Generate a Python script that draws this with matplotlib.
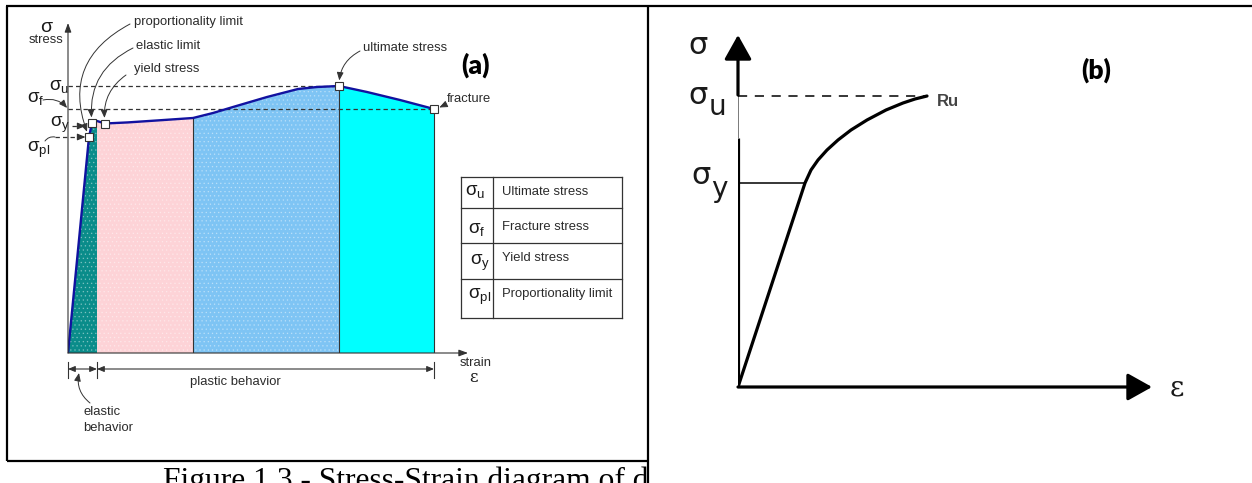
import numpy as np
import matplotlib
matplotlib.use("Agg")
import matplotlib.pyplot as plt
from matplotlib.patches import Rectangle
from matplotlib.transforms import blended_transform_factory

plt.rcParams['font.family'] = ['Liberation Sans', 'DejaVu Sans']
plt.rcParams['mathtext.fontset'] = 'custom'
plt.rcParams['mathtext.rm'] = 'Liberation Sans'
plt.rcParams['mathtext.default'] = 'regular'
plt.rcParams['hatch.linewidth'] = 0.5

# ---------------- data: (a) ductile steel stress-strain curve ----------------
strain_a = [0.000, 0.021, 0.024, 0.029, 0.037, 0.060, 0.090, 0.125,
            0.145, 0.165, 0.199, 0.230, 0.249, 0.271, 0.299, 0.332, 0.366]
stress_a = [0, 216, 230, 232, 229.5, 230.6, 232.6, 235,
            240, 246, 256, 264, 266, 267, 261, 253, 244]

region_names = ['elastic region', 'yielding', 'strain hardening', 'necking']
region_edges = [0.000, 0.029, 0.125, 0.271, 0.366]

point_names = ['proportionality limit', 'elastic limit', 'yield stress',
               'ultimate stress', 'fracture']
point_index = [1, 2, 4, 13, 16]

sigma_u, sigma_f, sigma_y, sigma_pl = 267, 244, 227, 216

table_symbols = [r'$\sigma_u$', r'$\sigma_f$', r'$\sigma_y$', r'$\sigma_{pl}$']
table_labels = ['Ultimate stress', 'Fracture stress', 'Yield stress',
                'Proportionality limit']

# ---------------- data: (b) idealised curve ----------------
strain_b = [0.000, 0.067, 0.073, 0.080, 0.089, 0.100, 0.113, 0.129,
            0.148, 0.165, 0.177, 0.189]
stress_b = [0, 204, 217, 227, 237, 247, 257, 267, 277, 284, 288, 291]
sigma_y_b, sigma_u_b = 204, 291

caption = "Figure 1.3 - Stress-Strain diagram of d"

# ---------------- figure ----------------
W, H = 1252, 483
fig = plt.figure(figsize=(W / 100, H / 100), dpi=100)
canvas = fig.add_axes([0, 0, 1, 1])
canvas.set_xlim(0, W)
canvas.set_ylim(H, 0)
canvas.axis('off')

TXT = '#2b2b2b'
LBL = 9.4

# caption, partly hidden by panel (b)
canvas.text(163, 489, caption, family='Liberation Serif', fontsize=22.7,
            ha='left', va='baseline', color='black', zorder=3)
canvas.add_patch(Rectangle((648, 6), W - 648, H, facecolor='white',
                           edgecolor='none', zorder=4))
frame_kw = dict(color='black', lw=1.6, zorder=5, solid_capstyle='butt')
canvas.plot([6, W], [6, 6], **frame_kw)
canvas.plot([7, 7], [6, 461], **frame_kw)
canvas.plot([7, 648], [461, 461], **frame_kw)
canvas.plot([648, 648], [6, H], **frame_kw)

# ---------------- panel (a) ----------------
ax_a = fig.add_axes([68 / W, (H - 353) / H, 400 / W, 330 / H])
ax_a.set_xlim(0, 0.400)
ax_a.set_ylim(0, 330)
ax_a.axis('off')

region_colors = ['#0a8c8a', '#fdd3d7', '#7ec4f4', '#00ffff']
region_hatch = ['....', '....', '....', None]
for i in range(4):
    lo, hi = region_edges[i], region_edges[i + 1]
    xs = [lo] + [s for s in strain_a if lo < s < hi] + [hi]
    ys = np.interp(xs, strain_a, stress_a)
    ax_a.fill_between(xs, 0, ys, facecolor=region_colors[i], edgecolor='none',
                      lw=0, zorder=1)
    if region_hatch[i]:
        ax_a.fill_between(xs, 0, ys, facecolor='none', edgecolor='#ffffff',
                          hatch=region_hatch[i], lw=0, alpha=0.35, zorder=1.1)
for e in region_edges[2:]:
    ax_a.vlines(e, 0, np.interp(e, strain_a, stress_a), color='#333333',
                lw=0.8, zorder=2)

ax_a.plot(strain_a, stress_a, color='#1212a0', lw=1.7, zorder=3,
          solid_joinstyle='round')
ax_a.plot([strain_a[i] for i in point_index], [stress_a[i] for i in point_index],
          's', ms=5.3, mfc='white', mec='#333333', mew=0.8, zorder=4)

# axes arrows
ax_kw = dict(arrowstyle='-|>,head_length=0.6,head_width=0.22', mutation_scale=9,
             lw=0.8, color='#333333', shrinkA=0, shrinkB=0)
ax_a.annotate('', xy=(0, 330), xytext=(0, 0), arrowprops=ax_kw,
              annotation_clip=False)
ax_a.annotate('', xy=(0.400, 0), xytext=(0, 0), arrowprops=ax_kw,
              annotation_clip=False)

# reference levels
dash_kw = dict(color='#333333', lw=0.9, ls=(0, (3.5, 2.5)), zorder=2.5,
               clip_on=False)
ax_a.plot([0, strain_a[13]], [sigma_u, sigma_u], **dash_kw)
ax_a.plot([0, strain_a[16]], [sigma_f, sigma_f], **dash_kw)
ax_a.plot([0.004, 0.014], [sigma_y, sigma_y], **dash_kw)
ax_a.plot([-0.013, 0.014], [sigma_pl, sigma_pl], **dash_kw)
tip_kw = dict(arrowstyle='-|>,head_length=0.6,head_width=0.25', mutation_scale=8,
              lw=0.8, color='#333333', shrinkA=0, shrinkB=0)
ax_a.annotate('', xy=(0.0175, sigma_y), xytext=(0.013, sigma_y),
              arrowprops=tip_kw, annotation_clip=False)
ax_a.annotate('', xy=(0.0175, sigma_pl), xytext=(0.013, sigma_pl),
              arrowprops=tip_kw, annotation_clip=False)

# call-outs
call_kw = dict(arrowstyle='-|>,head_length=0.6,head_width=0.25', mutation_scale=8,
               lw=0.7, color='#333333', shrinkA=0)
text_pos = [(134, 22), (136, 46), (134, 69), (363, 48), (447, 99)]
start_pos = [(130, 24), (133, 48), (126, 75), (360, 51), (445, 103)]
rads = [0.45, 0.35, 0.3, 0.3, -0.2]
for name, tp, sp, r, idx in zip(point_names, text_pos, start_pos, rads, point_index):
    canvas.text(tp[0], tp[1], name, fontsize=LBL, color=TXT, ha='left',
                va='center')
    ax_a.annotate('', xy=(strain_a[idx], stress_a[idx]), xytext=sp,
                  textcoords=canvas.transData,
                  arrowprops=dict(call_kw, shrinkB=4,
                                  connectionstyle=f'arc3,rad={r}'),
                  annotation_clip=False)
ax_a.annotate('', xy=(0, sigma_f), xytext=(43, 100), textcoords=canvas.transData,
              arrowprops=dict(call_kw, shrinkB=1,
                              connectionstyle='arc3,rad=-0.3'),
              annotation_clip=False)
canvas.annotate('', xy=(55, 137), xytext=(45, 141),
                arrowprops=dict(arrowstyle='-', lw=0.7, color='#333333',
                                connectionstyle='arc3,rad=-0.3',
                                shrinkA=0, shrinkB=0))

# stress / strain symbols for (a)
sig_kw = dict(fontsize=13.5, color='#1a1a1a', ha='left', va='baseline')
canvas.text(49, 90, r'$\sigma_u$', **sig_kw)
canvas.text(27, 102, r'$\sigma_f$', **sig_kw)
canvas.text(50, 127, r'$\sigma_y$', **sig_kw)
canvas.text(27, 152, r'$\sigma_{pl}$', **sig_kw)
canvas.text(46, 27, 'σ', fontsize=14, color='#1a1a1a', ha='center',
            va='center')
canvas.text(46, 40, 'stress', fontsize=LBL, color=TXT, ha='center', va='center')
canvas.text(476, 363, 'strain', fontsize=LBL, color=TXT, ha='center', va='center')
canvas.text(474, 377, 'ε', family='DejaVu Serif', fontsize=12, color='#1a1a1a',
            ha='center', va='center')
canvas.text(475, 65, '(a)', family='Lato', fontweight='heavy', fontsize=19,
            ha='center', va='center', color='black')

# region labels
canvas.text(85, 300, region_names[0], rotation=90, fontsize=LBL, color='#1a1a1a',
            ha='center', va='center')
for name, cx in zip(region_names[1:], [141, 268, 395]):
    canvas.text(cx, 243, name, fontsize=LBL, color=TXT, ha='center', va='center')

# elastic / plastic behaviour dimension lines
bt = blended_transform_factory(ax_a.transData, canvas.transData)
for e in [region_edges[0], region_edges[1], region_edges[4]]:
    canvas.plot([e, e], [362, 378], color='#333333', lw=0.8, transform=bt)
dim_kw = dict(arrowstyle='<|-|>,head_length=0.6,head_width=0.25',
              mutation_scale=7, lw=0.8, color='#333333', shrinkA=0, shrinkB=0)
canvas.annotate('', xy=(region_edges[1], 369), xycoords=bt,
                xytext=(region_edges[0], 369), textcoords=bt, arrowprops=dim_kw)
canvas.annotate('', xy=(region_edges[4], 369), xycoords=bt,
                xytext=(region_edges[1], 369), textcoords=bt, arrowprops=dim_kw)
canvas.text(235, 382, 'plastic behavior', fontsize=LBL, color=TXT, ha='center',
            va='center')
canvas.text(83, 412, 'elastic', fontsize=LBL, color=TXT, ha='left', va='center')
canvas.text(83, 428, 'behavior', fontsize=LBL, color=TXT, ha='left', va='center')
canvas.annotate('', xy=(79, 373), xytext=(90, 403),
                arrowprops=dict(call_kw, shrinkB=0,
                                connectionstyle='arc3,rad=-0.3'))

# symbol table
rows_y = [177, 208, 243, 279, 318]
for y in rows_y:
    canvas.plot([461, 622], [y, y], color='#333333', lw=0.9)
for x in [461, 493, 622]:
    canvas.plot([x, x], [rows_y[0], rows_y[-1]], color='#333333', lw=0.9)
sym_x = [465, 468, 470, 468]
sym_base = [195, 233, 265, 299]
lab_y = [192, 227, 258, 294]
for sym, lab, sx, sb, ly in zip(table_symbols, table_labels, sym_x, sym_base, lab_y):
    canvas.text(sx, sb, sym, **sig_kw)
    canvas.text(502, ly, lab, fontsize=LBL, color=TXT, ha='left', va='center')

# ---------------- panel (b) ----------------
ax_b = fig.add_axes([738 / W, (H - 387) / H, 414 / W, 352 / H])
ax_b.set_xlim(0, 0.414)
ax_b.set_ylim(0, 352)
ax_b.axis('off')

AXLW = 2.3
big_kw = dict(arrowstyle='-|>,head_length=0.75,head_width=0.42', mutation_scale=20,
              lw=AXLW, color='black', shrinkA=0, shrinkB=0)
ax_b.plot([0, 0], [0, 249], color='black', lw=AXLW, solid_capstyle='butt')
ax_b.plot([0, 0], [249, 292], color='#7a7a7a', lw=1.4, solid_capstyle='butt')
ax_b.annotate('', xy=(0, 352), xytext=(0, 292), arrowprops=big_kw,
              annotation_clip=False)
ax_b.annotate('', xy=(0.414, 0), xytext=(0, 0), arrowprops=big_kw,
              annotation_clip=False)

ax_b.plot([0, strain_b[1]], [sigma_y_b, sigma_y_b], color='black', lw=1.1)
ax_b.plot([0, strain_b[-1]], [sigma_u_b, sigma_u_b], color='black', lw=1.1,
          ls=(0, (6, 5)))
ax_b.plot(strain_b, stress_b, color='black', lw=AXLW, solid_joinstyle='round',
          solid_capstyle='round')

ZB = 6
canvas.text(937, 101, 'Ru', fontsize=12, fontweight='bold', color='#444444',
            ha='left', va='center', zorder=ZB)
bsym = dict(family='DejaVu Sans', color='#1a1a1a', ha='center', va='center',
            zorder=ZB)
canvas.text(698, 46, 'σ', fontsize=22, **bsym)
canvas.text(698, 95, 'σ', fontsize=22, **bsym)
canvas.text(717, 107, 'u', fontsize=20, **bsym)
canvas.text(701, 176, 'σ', fontsize=22, **bsym)
canvas.text(719, 189, 'y', fontsize=20, **bsym)
canvas.text(1177, 388, 'ε', family='DejaVu Serif', fontsize=20, color='#1a1a1a',
            ha='center', va='center', zorder=ZB)
canvas.text(1096, 70, '(b)', family='Lato', fontweight='heavy', fontsize=19,
            ha='center', va='center', color='black', zorder=ZB)

fig.savefig('out.png', dpi=100)
